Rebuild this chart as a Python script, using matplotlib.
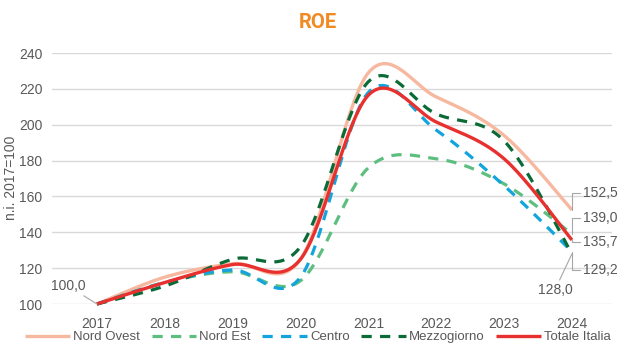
import numpy as np
import matplotlib
matplotlib.use("Agg")
import matplotlib.pyplot as plt
from matplotlib import font_manager

# ---- data (index numbers, 2017 = 100) ----
years = [2017, 2018, 2019, 2020, 2021, 2022, 2023, 2024]
nord_ovest = [100.0, 115.0, 122.5, 125.0, 229.0, 215.5, 194.0, 152.5]
nord_est = [100.0, 112.0, 118.0, 113.0, 176.0, 181.0, 167.0, 139.0]
centro = [100.0, 112.0, 119.0, 115.0, 218.0, 197.0, 166.0, 129.2]
mezzogiorno = [100.0, 110.0, 125.0, 132.0, 224.0, 206.0, 191.0, 128.0]
totale_italia = [100.0, 112.0, 122.0, 125.0, 216.5, 201.5, 181.0, 135.7]

series_names = ["Nord Ovest", "Nord Est", "Centro", "Mezzogiorno", "Totale Italia"]
y_ticks = [100, 120, 140, 160, 180, 200, 220, 240]

# ---- fonts ----
available = {f.name for f in font_manager.fontManager.ttflist}
narrow = "Liberation Sans Narrow" if "Liberation Sans Narrow" in available else "Liberation Sans"
plt.rcParams["font.family"] = [narrow, "DejaVu Sans"]

GRAY_TXT = "#595959"
GRID = "#D9D9D9"
LEADER = "#A6A6A6"


def smooth(xs, ys, n=40):
    """Bezier smoothing through every point (spreadsheet-style smoothed line)."""
    p = np.column_stack([xs, ys]).astype(float)
    ext = np.vstack([p[0], p, p[-1]])
    out = []
    t = np.linspace(0, 1, n)[:, None]
    for i in range(len(p) - 1):
        p0, p1, p2, p3 = ext[i], ext[i + 1], ext[i + 2], ext[i + 3]
        c1 = p1 + (p2 - p0) / 6.0
        c2 = p2 - (p3 - p1) / 6.0
        seg = ((1 - t) ** 3) * p1 + 3 * ((1 - t) ** 2) * t * c1 + 3 * (1 - t) * t ** 2 * c2 + t ** 3 * p2
        out.append(seg if i == 0 else seg[1:])
    seg = np.vstack(out)
    return seg[:, 0], seg[:, 1]


fig = plt.figure(figsize=(6.21, 3.43), dpi=100)
ax = fig.add_axes([52 / 621, 1 - 304 / 343, 560 / 621, 251 / 343])

styles = [
    dict(color="#F7B8A0", lw=2.4, ls="-"),
    dict(color="#5DBE7F", lw=2.3, ls=(0, (3.2, 2.6))),
    dict(color="#13A4DD", lw=2.3, ls=(0, (3.2, 2.6))),
    dict(color="#0B6B37", lw=2.3, ls=(0, (3.2, 2.6))),
    dict(color="#E8302F", lw=2.4, ls="-"),
]
data = [nord_ovest, nord_est, centro, mezzogiorno, totale_italia]

for name, vals, st in zip(series_names, data, styles):
    sx, sy = smooth(years, vals)
    ax.plot(sx, sy, color=st["color"], lw=st["lw"], linestyle=st["ls"],
            label=name, solid_capstyle="butt", dash_capstyle="butt", clip_on=False, zorder=3)

ax.set_xlim(2016.337, 2024.59)
ax.set_ylim(100, 240)
ax.set_yticks(y_ticks)
ax.set_xticks(years)
ax.set_xticklabels([str(y) for y in years])
ax.grid(axis="y", color=GRID, lw=1.0, zorder=0)
ax.grid(axis="x", visible=False)
for s in ax.spines.values():
    s.set_visible(False)
ax.tick_params(axis="both", length=0, labelsize=10, labelcolor=GRAY_TXT)
ax.tick_params(axis="x", pad=9)
ax.tick_params(axis="y", pad=7)

fig.text(11 / 621, 1 - 178 / 343, "n.i. 2017=100", rotation=90, ha="center", va="center",
         fontsize=10, color=GRAY_TXT)

fig.text(318 / 621, 1 - 22 / 343, "ROE", ha="center", va="center", fontsize=14.5,
         fontweight="bold", color="#F28A23", family=["Roboto", "DejaVu Sans"])


def fmt(v):
    return f"{v:.1f}".replace(".", ",")


def label(xv, yv, dx, dy, ha="left", elbow=True, va="center"):
    props = dict(arrowstyle="-", color=LEADER, lw=0.8, shrinkA=0, shrinkB=0)
    if elbow:
        props["connectionstyle"] = "angle,angleA=0,angleB=90,rad=0"
        props["relpos"] = (0, 0.5)
    ax.annotate(fmt(yv), xy=(xv, yv), xytext=(dx, dy), textcoords="offset pixels",
                ha=ha, va=va, fontsize=10, color=GRAY_TXT, arrowprops=props,
                annotation_clip=False)


last = years[-1]
label(years[0], totale_italia[0], -29, 18, ha="center", elbow=False)
label(last, nord_ovest[-1], 11, 17)
label(last, nord_est[-1], 11, 16)
label(last, totale_italia[-1], 11, -2)
label(last, centro[-1], 11, -18)
label(last, mezzogiorno[-1], -17, -36, ha="center", elbow=False)

leg = fig.legend(loc="center", bbox_to_anchor=(318 / 621, 1 - 337 / 343), ncol=5, frameon=False,
                 fontsize=9.5, handlelength=3.4, columnspacing=0.9, handletextpad=0.2,
                 borderaxespad=0, borderpad=0)
for t in leg.get_texts():
    t.set_color(GRAY_TXT)

fig.savefig("out.png", dpi=100)
